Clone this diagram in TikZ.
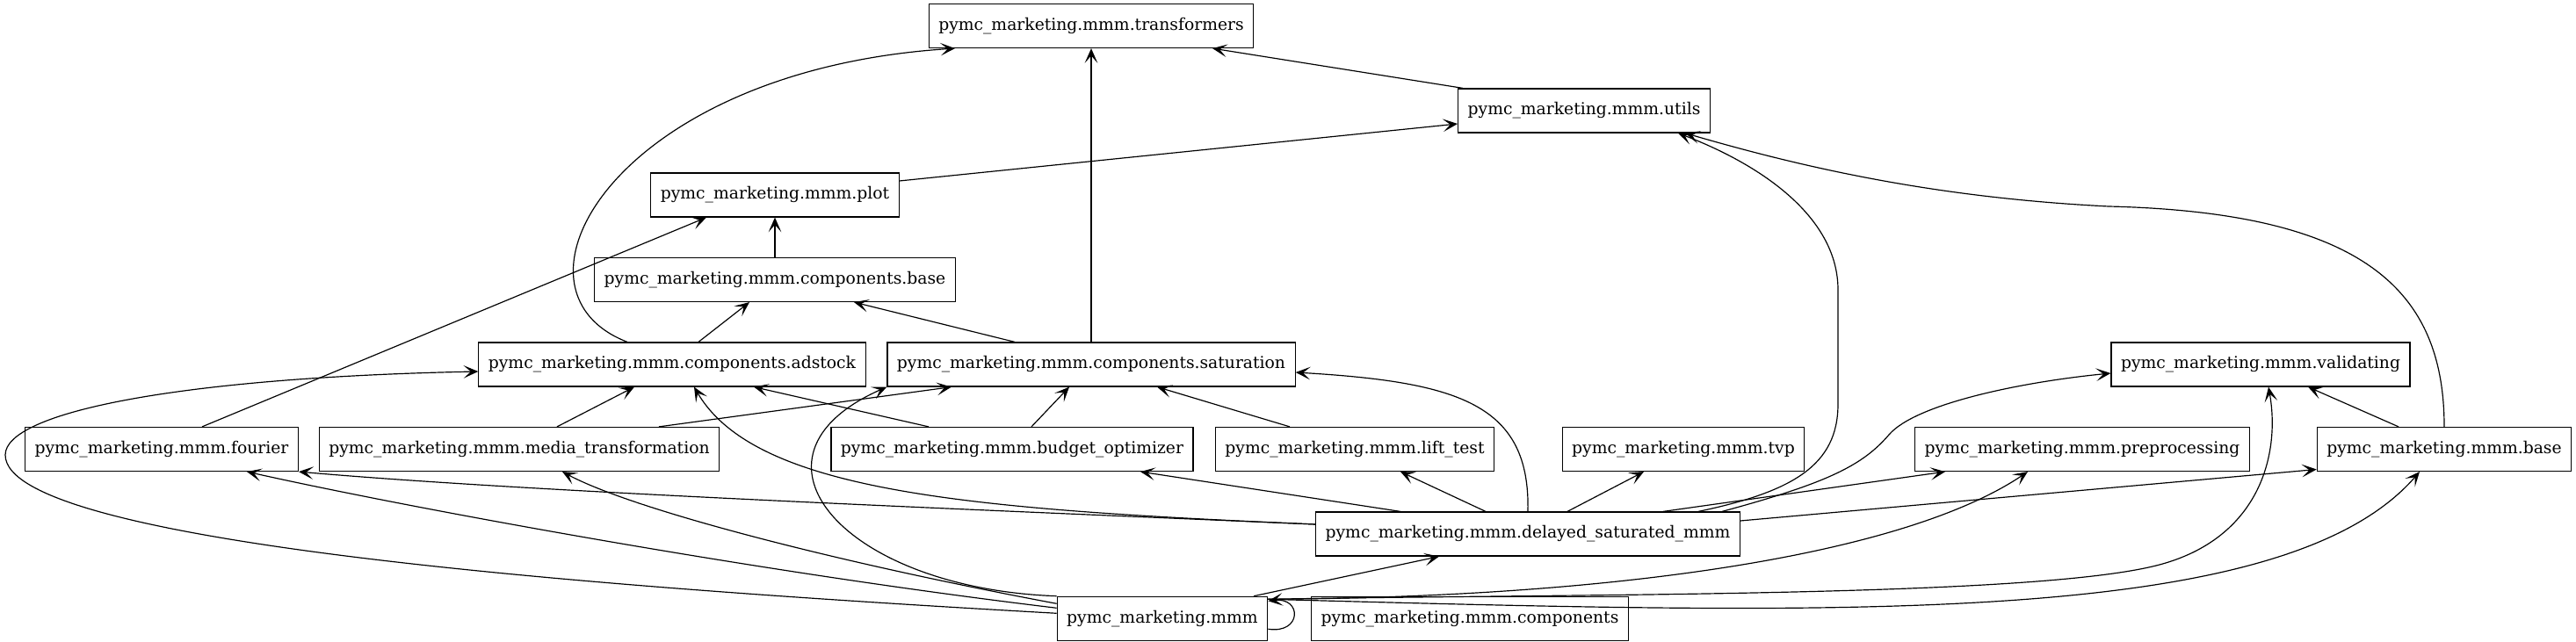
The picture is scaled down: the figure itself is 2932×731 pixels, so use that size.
\documentclass[tikz,border=0pt]{standalone}
\usepackage{fontspec}
\setmainfont{DejaVu Serif}
\usetikzlibrary{arrows.meta,calc}

\begin{document}
\begin{tikzpicture}[x=0.72pt,y=-0.72pt,line width=0.85pt,
 mod/.style={draw,minimum height=36pt,inner xsep=7.92pt,inner ysep=0pt,font=\fontsize{13.5}{16}\selectfont},
 dep/.style={-{Stealth[length=12pt,width=10.5pt,inset=6pt]}}]
\useasboundingbox (0,0) rectangle (2932,731);
\node[mod] (trans) at (1242,29.5) {pymc\_marketing.mmm.transformers};
\node[mod] (utils) at (1803,126) {pymc\_marketing.mmm.utils};
\node[mod] (plot) at (882,222) {pymc\_marketing.mmm.plot};
\node[mod] (cbase) at (882,318.5) {pymc\_marketing.mmm.components.base};
\node[mod] (adstock) at (765,415) {pymc\_marketing.mmm.components.adstock};
\node[mod] (sat) at (1242,415) {pymc\_marketing.mmm.components.saturation};
\node[mod] (valid) at (2573,415) {pymc\_marketing.mmm.validating};
\node[mod] (fourier) at (184,511.5) {pymc\_marketing.mmm.fourier};
\node[mod] (media) at (591,511.5) {pymc\_marketing.mmm.media\_transformation};
\node[mod] (budget) at (1152,511.5) {pymc\_marketing.mmm.budget\_optimizer};
\node[mod] (lift) at (1542,511.5) {pymc\_marketing.mmm.lift\_test};
\node[mod] (tvp) at (1916,511.5) {pymc\_marketing.mmm.tvp};
\node[mod] (prep) at (2370,511.5) {pymc\_marketing.mmm.preprocessing};
\node[mod] (base) at (2782,511.5) {pymc\_marketing.mmm.base};
\node[mod] (dsm) at (1739,608) {pymc\_marketing.mmm.delayed\_saturated\_mmm};
\node[mod] (mmm) at (1323,704.3) {pymc\_marketing.mmm};
\node[mod] (comps) at (1673,704.3) {pymc\_marketing.mmm.components};
% transformers
\draw[dep] ($(adstock.north)+(-51,0)$) .. controls (560,330) and (700,80) .. ($(trans.south)+(-155,0)$);
\draw[dep] (sat) -- (trans);
\draw[dep] ($(utils.north west)+(6,0)$) -- ($(trans.south)+(138,0)$);
% utils
\draw[dep] ($(plot.east)+(0,-16)$) -- ($(utils.west)+(0,15)$);
\draw[dep] ($(dsm.north)+(194,0)$) .. controls (2040,560) and (2092,530) .. (2092,460) -- (2092,330)
 .. controls (2092,250) and (2010,190) .. ($(utils.south)+(107,0)$);
\draw[dep] (base.north) .. controls (2782,330) and (2690,242) .. (2400,235)
 .. controls (2200,225) and (2050,190) .. ($(utils.south)+(115,0)$);
% plot
\draw[dep] (cbase) -- (plot);
\draw[dep] ($(fourier.north)+(46,0)$) -- ($(plot.south)+(-78,0)$);
% components.base
\draw[dep] ($(adstock.north)+(30,0)$) -- ($(cbase.south)+(-29,0)$);
\draw[dep] ($(sat.north)+(-87,0)$) -- ($(cbase.south)+(90,0)$);
% components.adstock
\draw[dep] ($(mmm.west)+(0,-6)$) .. controls (700,670) and (6,620) .. (6,518)
 .. controls (6,470) and (200,430) .. ($(adstock.west)+(0,8)$);
\draw[dep] ($(media.north)+(43,0)$) -- ($(adstock.south)+(-43,0)$);
\draw[dep] ($(budget.north)+(-95,0)$) -- ($(adstock.south)+(93,0)$);
\draw[dep] ($(dsm.west)+(0,-11)$) .. controls (1100,580) and (860,560) .. ($(adstock.south)+(25,0)$);
% components.saturation
\draw[dep] (mmm.north west) .. controls (960,670) and (830,520) .. (sat.south west);
\draw[dep] ($(media.north)+(159,0)$) -- ($(sat.south)+(-159,0)$);
\draw[dep] ($(budget.north)+(22,0)$) -- ($(sat.south)+(-25,0)$);
\draw[dep] ($(lift.north)+(-74,0)$) -- ($(sat.south)+(75,0)$);
\draw[dep] (dsm.north) .. controls (1742,460) and (1660,435) .. ($(sat.east)+(0,9)$);
% validating
\draw[dep] ($(dsm.north)+(221,0)$) .. controls (2080,550) and (2120,530) .. (2150,495)
 .. controls (2180,460) and (2300,435) .. ($(valid.west)+(0,10)$);
\draw[dep] ($(mmm.east)+(0,-22)$) .. controls (1800,676) and (2300,680) .. (2450,645)
 .. controls (2570,617) and (2596,520) .. ($(valid.south)+(9,0)$);
\draw[dep] ($(base.north)+(-52,0)$) -- ($(valid.south)+(54,0)$);
% fourier, media_transformation
\draw[dep] ($(mmm.west)+(0,-12)$) .. controls (850,650) and (450,575) .. ($(fourier.south)+(97,0)$);
\draw[dep] ($(dsm.west)+(0,-11)$) .. controls (1100,580) and (600,560) .. (fourier.south east);
\draw[dep] ($(mmm.west)+(0,-17)$) .. controls (950,640) and (720,580) .. ($(media.south)+(49,0)$);
% budget_optimizer, lift_test, tvp, preprocessing
\draw[dep] ($(dsm.north)+(-145,0)$) -- ($(budget.south)+(146,0)$);
\draw[dep] ($(dsm.north)+(-48,0)$) -- ($(lift.south)+(52,0)$);
\draw[dep] ($(dsm.north)+(45,0)$) -- ($(tvp.south)+(-45,0)$);
\draw[dep] ($(dsm.north)+(154,0)$) -- ($(prep.south)+(-156,0)$);
\draw[dep] ($(mmm.east)+(0,-22)$) .. controls (1850,680) and (2170,630) .. ($(prep.south)+(-62,0)$);
% base
\draw[dep] ($(dsm.east)+(0,-15)$) -- ($(base.west)+(0,23)$);
\draw[dep] ($(mmm.east)+(0,-22)$) .. controls (2100,700) and (2600,715) .. ($(base.south)+(-28,0)$);
% delayed_saturated_mmm and self import
\draw[dep] ($(mmm.north)+(104,0)$) -- ($(dsm.south)+(-101,0)$);
\draw[dep] ($(mmm.east)+(0,12)$) .. controls (1482,722) and (1482,680) .. ($(mmm.east)+(0,-20)$);
\end{tikzpicture}
\end{document}
